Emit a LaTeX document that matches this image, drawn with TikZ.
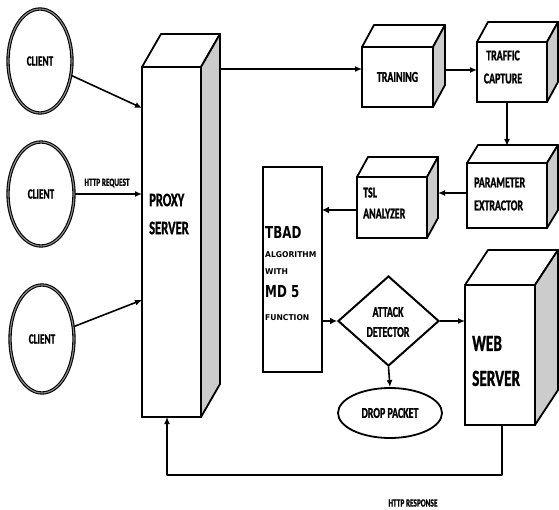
\documentclass[tikz,border=0pt]{standalone}
\usepackage{fontspec}
\setmainfont{Carlito}[FakeStretch=0.66,BoldFeatures={FakeBold=1.2}]
\newfontfamily\tbadbig{DejaVu Sans}[FakeStretch=0.72]
\newfontfamily\tbadsmall{DejaVu Sans}[FakeStretch=0.95]
\usetikzlibrary{shapes.geometric,arrows.meta,calc}

% top and right faces of a 3-D box drawn behind a front node
\newcommand\cubefaces[3]{%
  \filldraw[cubeline,fill=white] (#1.north west) -- ($(#1.north west)+(#2,#3)$)
    -- ($(#1.north east)+(#2,#3)$) -- (#1.north east) -- cycle;
  \filldraw[cubeline,fill=black!20] (#1.north east) -- ($(#1.north east)+(#2,#3)$)
    -- ($(#1.south east)+(#2,#3)$) -- (#1.south east) -- cycle;
}

\begin{document}
\begin{tikzpicture}[x=1pt,y=-1pt,
  every node/.style={font=\bfseries},
  cubeline/.style={line width=1.8pt,line join=round},
  front/.style={draw,line width=1.8pt,fill=white,inner sep=0pt,outer sep=0pt,
    align=center,font=\bfseries\fontsize{15}{22}\selectfont},
  client/.style={ellipse,draw=black,line width=1.1pt,double=black!45,
    double distance=1.1pt,fill=white,inner sep=0pt,
    font=\bfseries\fontsize{14}{16}\selectfont},
  conn/.style={line width=1.6pt,-{Latex[length=7pt,width=6pt]}},
  heavy/.style={line width=2.6pt,-{Latex[length=7pt,width=7pt]}},
  small/.style={font=\bfseries\fontsize{11}{13}\selectfont},
  tbig/.style={anchor=base west,inner sep=0pt,font=\tbadbig\bfseries\fontsize{16.5}{18}\selectfont},
  tsmall/.style={anchor=base west,inner sep=0pt,font=\tbadsmall\bfseries\fontsize{8}{9}\selectfont}]

\useasboundingbox (0,0) rectangle (559,510);

% clients
\node[client,minimum width=64pt,minimum height=104pt] (c1) at (40,61) {CLIENT};
\node[client,minimum width=66pt,minimum height=104pt] (c2) at (41,194) {CLIENT};
\node[client,minimum width=64pt,minimum height=108pt] (c3) at (42,339) {CLIENT};

% proxy server
\node[front,minimum width=59pt,minimum height=350pt] (proxy) at (171.5,242) {};
\cubefaces{proxy}{19}{-33}
\node[font=\bfseries\fontsize{19}{28}\selectfont,align=left,inner sep=0pt,anchor=west] (proxytxt) at (149,214) {PROXY\\SERVER};

% pipeline boxes
\node[front,minimum width=71pt,minimum height=60pt] (training) at (397.5,77) {TRAINING};
\cubefaces{training}{12}{-22}
\node[front,minimum width=70pt,minimum height=60pt] (traffic) at (512,72) {};
\cubefaces{traffic}{11}{-20}
\node[font=\bfseries\fontsize{15}{23}\selectfont,align=center,inner sep=0pt] (traffictxt) at (503,67) {TRAFFIC\\CAPTURE};
\node[front,minimum width=80pt,minimum height=65pt] (param) at (507,195.5) {};
\cubefaces{param}{11}{-18}
\node[font=\bfseries\fontsize{15}{23}\selectfont,align=left,inner sep=0pt,anchor=west] (paramtxt) at (474,194) {PARAMETER\\EXTRACTOR};
\node[front,minimum width=70pt,minimum height=61pt] (tsl) at (392,207.5) {};
\cubefaces{tsl}{11}{-20}
\node[font=\bfseries\fontsize{15}{21}\selectfont,align=left,inner sep=0pt,anchor=west] (tsltxt) at (363,203) {TSL\\ANALYZER};

% TBAD algorithm block
\node[draw,line width=2.6pt,inner sep=0pt,outer sep=0pt,minimum width=59pt,minimum height=205pt] (tbad) at (292.5,269.5) {};
\node[tbig] (tb1) at (265,239) {TBAD};
\node[tsmall] (tb2) at (265,258) {ALGORITHM};
\node[tsmall] (tb3) at (265,275) {WITH};
\node[tbig] (tb4) at (265,298) {MD 5};
\node[tsmall] (tb5) at (265,320) {FUNCTION};

% detector, drop, web server
\node[diamond,draw,line width=2pt,fill=white,inner sep=0pt,minimum width=101pt,minimum height=90pt] (dia) at (388.5,321) {};
\node[font=\bfseries\fontsize{15}{20}\selectfont,align=center,inner sep=0pt] (diatxt) at (388,322) {ATTACK\\DETECTOR};
\node[ellipse,draw,line width=1.8pt,inner sep=0pt,minimum width=104pt,minimum height=50pt,
  font=\bfseries\fontsize{15}{17}\selectfont] (drop) at (390,413) {DROP PACKET};
\node[front,minimum width=70pt,minimum height=140pt] (web) at (500,355) {};
\cubefaces{web}{23}{-35}
\node[font=\bfseries\fontsize{23}{35}\selectfont,align=left,inner sep=0pt,anchor=west] (webtxt) at (472,361) {WEB\\SERVER};

% requests from clients
\coordinate (p1) at (proxy.west |- 0,108);
\coordinate (p3) at (proxy.west |- 0,300);
\draw[conn] (c1) -- (p1);
\draw[conn] (c2.east) -- (proxy.west |- c2.east);
\draw[conn] (c3) -- (p3);
\node[small] (req) at (107,183) {HTTP REQUEST};

% processing chain
\coordinate (pside) at ($(proxy.north east)+(19,2)$);
\draw[conn] (pside) -- (training.west |- pside);
\coordinate (tside) at ($(training.east)+(12,-7)$);
\draw[conn] (tside) -- (traffic.west |- tside);
\coordinate (tcap) at (traffic.south -| 507,0);
\draw[conn] (tcap) -- (tcap |- 0,146);
\coordinate (pext) at (param.west |- 0,193);
\draw[conn] (pext) -- ($(tsl.east |- pext)+(11,0)$);
\coordinate (tslw) at (tsl.west |- 0,210);
\draw[heavy] (tslw) -- (tbad.east |- tslw);
\draw[heavy] (tbad.east |- dia.west) -- (dia.west);
\draw[conn] (dia.east) -- (web.west |- dia.east);
\draw[conn] (dia.south) -- (drop.north);

% response path
\coordinate (wb) at (web.south -| 502,0);
\coordinate (pb) at (proxy.south -| 167,0);
\draw[conn,line join=round] (wb) -- (wb |- 0,475) -| (pb);
\node[small] (resp) at (413,503) {HTTP RESPONSE};

\end{tikzpicture}
\end{document}
